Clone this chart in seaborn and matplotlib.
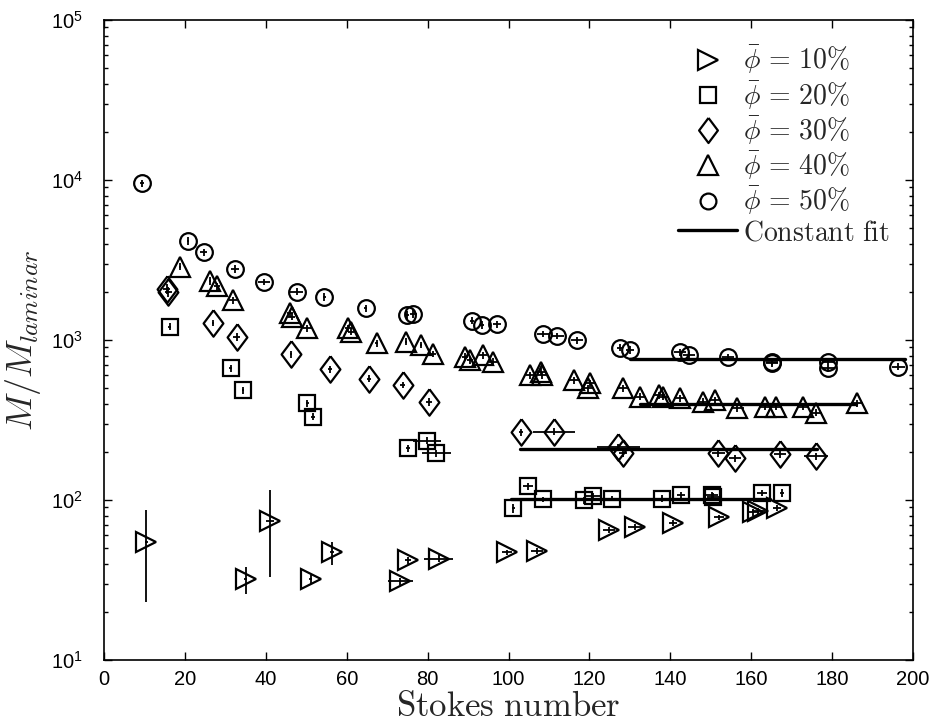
import numpy as np
import pandas as pd
import matplotlib
matplotlib.use("Agg")
import matplotlib.pyplot as plt
from matplotlib.lines import Line2D
from matplotlib.ticker import LogLocator, FixedLocator, FuncFormatter, NullFormatter
import seaborn as sns

# ---------------- data ----------------
st_10 = [10.5, 35.0, 41.0, 51.1, 56.3, 73.2, 75.2, 82.7, 99.6, 107.0, 124.9, 131.3, 140.6, 152.1, 160.5, 161.8, 166.4]
m_10 = [55, 32, 74, 32, 47, 31, 42, 43, 47, 48, 65, 68, 72, 78, 84, 85, 89]
yerr_10 = [32, 6, 41, 2, 8, 1.5, 2, 2, 2, 2, 3, 3, 3, 3, 4, 4, 4]
xerr_10 = [0.3, 0.3, 1.0, 0.3, 0.5, 3.1, 0.8, 3.5, 1.2, 1.5, 1.5, 1.8, 1.0, 1.2, 1.5, 1.5, 1.0]

st_20 = [16.2, 31.3, 34.3, 50.3, 51.7, 75.2, 79.9, 82.1, 101.2, 104.9, 108.6, 118.7, 121.0, 125.7, 138.0, 142.6, 150.2, 150.6, 162.6, 167.7]
m_20 = [1210, 665, 487, 402, 332, 210, 235, 196, 89, 122, 101, 100, 106, 102, 102, 107, 107, 105, 111, 111]
yerr_20 = [60, 35, 25, 20, 17, 10, 12, 10, 6, 6, 4, 5, 5, 4, 5, 6, 6, 6, 5, 6]
xerr_20 = [0.3, 0.3, 0.3, 0.3, 0.5, 0.5, 3.5, 3.6, 0.3, 1.2, 0.8, 1.0, 2.0, 1.0, 1.0, 1.0, 1.5, 1.5, 1.2, 0.5]

st_30 = [15.5, 15.9, 26.9, 32.8, 46.2, 55.9, 65.6, 73.8, 80.4, 103.0, 111.2, 127.1, 128.2, 151.9, 156.0, 167.1, 176.0]
m_30 = [2075, 2000, 1283, 1050, 814, 656, 573, 524, 411, 265, 267, 215, 196, 196, 182, 194, 188]
yerr_30 = [150, 150, 60, 60, 40, 35, 30, 25, 25, 13, 13, 10, 10, 10, 9, 10, 9]
xerr_30 = [0.8, 0.8, 0.3, 0.8, 0.3, 0.5, 0.5, 0.5, 0.8, 0.5, 5.2, 5.3, 1.0, 1.5, 1.5, 1.5, 3.0]

st_40 = [18.8, 26.2, 28.0, 32.0, 46.0, 46.4, 50.3, 60.4, 61.0, 67.4, 74.7, 78.4, 81.3, 89.2, 90.5, 93.8, 96.1,
         105.3, 108.0, 108.2, 116.2, 120.1, 119.7, 128.4, 132.5, 137.3, 138.3, 142.4, 148.2, 151.1, 156.6,
         163.4, 166.1, 172.9, 176.0, 186.1]
m_40 = [2870, 2340, 2175, 1778, 1470, 1400, 1183, 1183, 1127, 953, 977, 930, 818, 787, 750, 806, 733,
        604, 634, 604, 562, 536, 499, 499, 443, 453, 443, 432, 411, 422, 374, 383, 383, 383, 352, 402]
yerr_40 = [150, 120, 110, 90, 75, 70, 60, 60, 55, 50, 50, 45, 40, 40, 38, 40, 36, 30, 32, 30, 28, 27, 25, 25,
           22, 23, 22, 22, 20, 21, 19, 19, 19, 19, 18, 20]
xerr_40 = [0.3, 0.3, 0.8, 1.0, 0.8, 0.8, 1.0, 0.8, 0.8, 0.3, 0.3, 0.3, 0.8, 0.8, 0.8, 1.0, 1.0, 1.0, 1.0, 1.0,
           1.5, 1.5, 1.5, 1.5, 1.5, 1.5, 1.5, 1.5, 1.5, 1.5, 1.5, 1.5, 1.5, 1.5, 1.5, 1.5]

st_50 = [9.5, 20.8, 24.6, 32.4, 39.6, 47.6, 54.5, 64.7, 74.8, 76.5, 90.9, 93.4, 97.1, 108.6, 112.1, 116.9,
         127.6, 130.0, 142.4, 144.7, 154.3, 165.1, 165.1, 179.1, 179.1, 196.4]
m_50 = [9530, 4180, 3530, 2780, 2300, 2000, 1870, 1580, 1430, 1450, 1320, 1240, 1250, 1087, 1059, 1000,
        895, 866, 838, 806, 780, 733, 714, 733, 665, 681]
yerr_50 = [500, 250, 200, 150, 100, 100, 110, 80, 80, 80, 70, 70, 60, 50, 50, 50, 45, 45, 40, 40, 40, 35, 35,
           35, 35, 35]
xerr_50 = [0.5, 0.3, 0.8, 1.0, 1.5, 1.5, 0.3, 0.3, 0.5, 0.8, 0.5, 0.5, 1.0, 1.5, 1.5, 1.5, 0.8, 1.0, 1.5,
           1.5, 1.5, 1.5, 1.5, 1.5, 1.5, 1.5]

# constant fits: start, end, value
fit_start = [100.6, 102.8, 132.5, 130.0]
fit_end = [164.6, 176.2, 186.0, 198.0]
fit_value = [101, 208, 396, 764]

labels = [r"$\bar{\phi}\,=\,10\%$", r"$\bar{\phi}\,=\,20\%$", r"$\bar{\phi}\,=\,30\%$",
          r"$\bar{\phi}\,=\,40\%$", r"$\bar{\phi}\,=\,50\%$"]
fit_label = r"$\mathrm{Constant\ fit}$"

# ---------------- style ----------------
sns.set_style("ticks")
plt.rcParams["font.family"] = ["Liberation Sans", "DejaVu Sans"]
plt.rcParams["mathtext.fontset"] = "cm"
plt.rcParams["axes.linewidth"] = 1.2

diamond = [(0, 1), (0.75, 0), (0, -1), (-0.75, 0), (0, 1)]
markers = [">", "s", diamond, "^", "o"]
msizes = [15, 11.5, 19, 15, 12]

series = [(st_10, m_10, xerr_10, yerr_10), (st_20, m_20, xerr_20, yerr_20),
          (st_30, m_30, xerr_30, yerr_30), (st_40, m_40, xerr_40, yerr_40),
          (st_50, m_50, xerr_50, yerr_50)]

fig = plt.figure(figsize=(9.34, 7.24), dpi=100)
ax = fig.add_axes([104 / 934, 64 / 724, 809 / 934, 640 / 724])

for (xs, ys, xe, ye), mk, ms in zip(series, markers, msizes):
    ax.errorbar(xs, ys, xerr=xe, yerr=ye, fmt="none", ecolor="black", elinewidth=1.3, capsize=0, zorder=2)
    df = pd.DataFrame({"Stokes": xs, "M": ys})
    sns.lineplot(data=df, x="Stokes", y="M", ax=ax, estimator=None, sort=False,
                 linestyle="", marker=mk, markersize=ms, markerfacecolor="none",
                 markeredgecolor="black", markeredgewidth=1.6, color="black", zorder=3)

for s, e, v in zip(fit_start, fit_end, fit_value):
    fdf = pd.DataFrame({"Stokes": [s, e], "M": [v, v]})
    sns.lineplot(data=fdf, x="Stokes", y="M", ax=ax, color="black", linewidth=2.4,
                 estimator=None, sort=False, zorder=4)

ax.set_yscale("log")
ax.set_xlim(0, 200)
ax.set_ylim(10, 1e5)
ax.xaxis.set_major_locator(FixedLocator(np.arange(0, 201, 20)))
ax.yaxis.set_major_locator(LogLocator(base=10, numticks=10))
ax.yaxis.set_minor_locator(LogLocator(base=10, subs=np.arange(2, 10), numticks=20))
ax.yaxis.set_minor_formatter(NullFormatter())
ax.yaxis.set_major_formatter(FuncFormatter(lambda v, p: r"$\mathregular{10^{%d}}$" % int(round(np.log10(v)))))

ax.tick_params(which="both", direction="in", top=True, right=True, width=1.0, colors="black")
ax.tick_params(which="major", length=6, labelsize=14.5)
ax.tick_params(axis="x", which="major", pad=7)
ax.tick_params(axis="y", which="major", pad=15)
ax.tick_params(which="minor", length=3)
for sp in ax.spines.values():
    sp.set_visible(True)
    sp.set_color("black")

ax.set_xlabel(r"$\mathrm{Stokes\ number}$", fontsize=25, labelpad=1)
ax.set_ylabel(r"$M/M_{laminar}$", fontsize=26, labelpad=6)

handles = [Line2D([], [], linestyle="None", marker=mk, markersize=ms, markerfacecolor="none",
                  markeredgecolor="black", markeredgewidth=1.6)
           for mk, ms in zip(markers, msizes)]
handles.append(Line2D([], [], color="black", linewidth=2.4))
leg = ax.legend(handles, labels + [fit_label], loc="upper right", bbox_to_anchor=(0.985, 0.98),
                frameon=False, fontsize=20, handlelength=2.15, handletextpad=0.2,
                labelspacing=0.1, borderaxespad=0.0, markerscale=0.95)

fig.savefig("out.png", dpi=100)
